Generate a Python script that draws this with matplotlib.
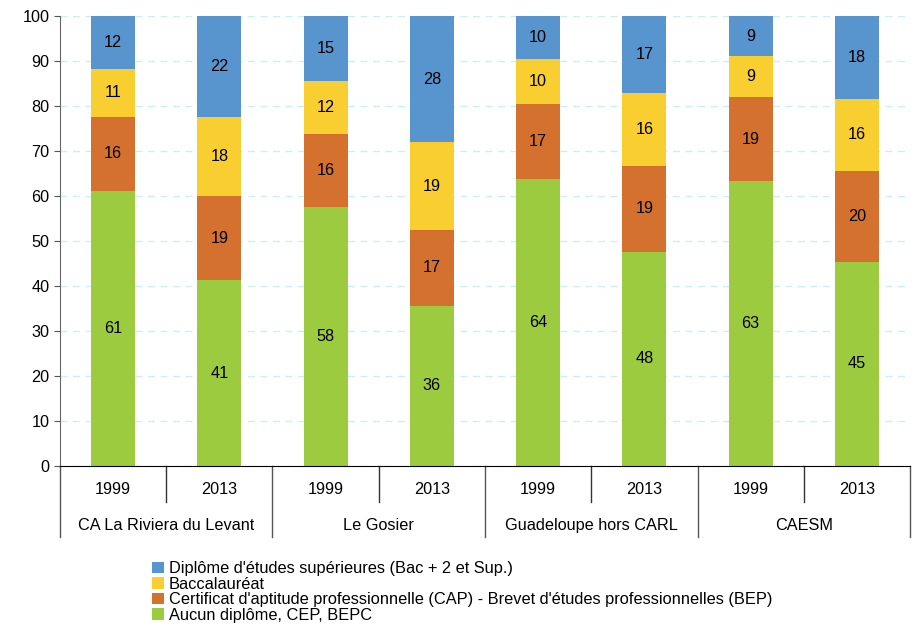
import matplotlib.pyplot as plt
import numpy as np

plt.rcParams['font.family'] = ['Liberation Sans', 'DejaVu Sans']

# data (%)
years = ['1999', '2013', '1999', '2013', '1999', '2013', '1999', '2013']
groups = ['CA La Riviera du Levant', 'Le Gosier', 'Guadeloupe hors CARL', 'CAESM']

aucun = [61.2, 41.3, 57.6, 35.6, 63.8, 47.6, 63.3, 45.4]
cap_bep = [16.4, 18.6, 16.1, 16.9, 16.6, 19.1, 18.6, 20.2]
bac = [10.6, 17.6, 11.8, 19.4, 10.0, 16.2, 9.2, 16.0]
sup = [11.8, 22.4, 14.6, 28.1, 9.6, 17.1, 8.9, 18.4]

series = [
    ('Aucun diplôme, CEP, BEPC', aucun, '#9CCB3F'),
    ("Certificat d'aptitude professionnelle (CAP) - Brevet d'études professionnelles (BEP)", cap_bep, '#D5712F'),
    ('Baccalauréat', bac, '#F9CE31'),
    ("Diplôme d'études supérieures (Bac + 2 et Sup.)", sup, '#5894CE'),
]

fs = 11.7

fig = plt.figure(figsize=(9.17, 6.28), dpi=100)
ax = fig.add_axes([0.0654, 0.258, 0.927, 0.7165])

x = np.arange(len(years))
bottom = np.zeros(len(years))
handles = []
for label, vals, color in series:
    vals = np.array(vals)
    b = ax.bar(x, vals, width=0.414, bottom=bottom, color=color, label=label, zorder=2)
    handles.append(b)
    for xi, v, bt in zip(x, vals, bottom):
        ax.text(xi, bt + v / 2, '%d' % round(v), ha='center', va='center',
                fontsize=fs, color='black', zorder=3)
    bottom += vals

ax.set_ylim(0, 100)
ax.set_xlim(-0.5, 7.5)
ax.set_yticks(range(0, 101, 10))
ax.tick_params(axis='y', direction='out', length=4, labelsize=fs, color='#555555')
ax.set_xticks([])
ax.yaxis.grid(True, color='#C8F0FB', linestyle=(0, (5, 4)), linewidth=1)
ax.set_axisbelow(True)

for s in ['top', 'right']:
    ax.spines[s].set_visible(False)
ax.spines['left'].set_color('#666666')
ax.spines['bottom'].set_color('black')

# two level category axis
tr = ax.get_xaxis_transform()
for xi, yr in zip(x, years):
    ax.text(xi, -0.053, yr, transform=tr, ha='center', va='center', fontsize=fs)
for i, g in enumerate(groups):
    ax.text(2 * i + 0.5, -0.133, g, transform=tr, ha='center', va='center', fontsize=fs)
for xs in [0.5, 2.5, 4.5, 6.5]:
    ax.plot([xs, xs], [0, -0.08], transform=tr, color='#333333', lw=1, clip_on=False)
for xs in [-0.5, 1.5, 3.5, 5.5, 7.5]:
    ax.plot([xs, xs], [0, -0.158], transform=tr, color='#555555', lw=1, clip_on=False)

fig.legend(handles[::-1], [s[0] for s in series][::-1], loc='upper left',
           bbox_to_anchor=(0.166, 0.106), frameon=False, fontsize=11.8,
           handlelength=0.7, handleheight=0.7, handletextpad=0.3,
           labelspacing=0.03, borderaxespad=0, borderpad=0)

fig.savefig('out.png', dpi=100)
